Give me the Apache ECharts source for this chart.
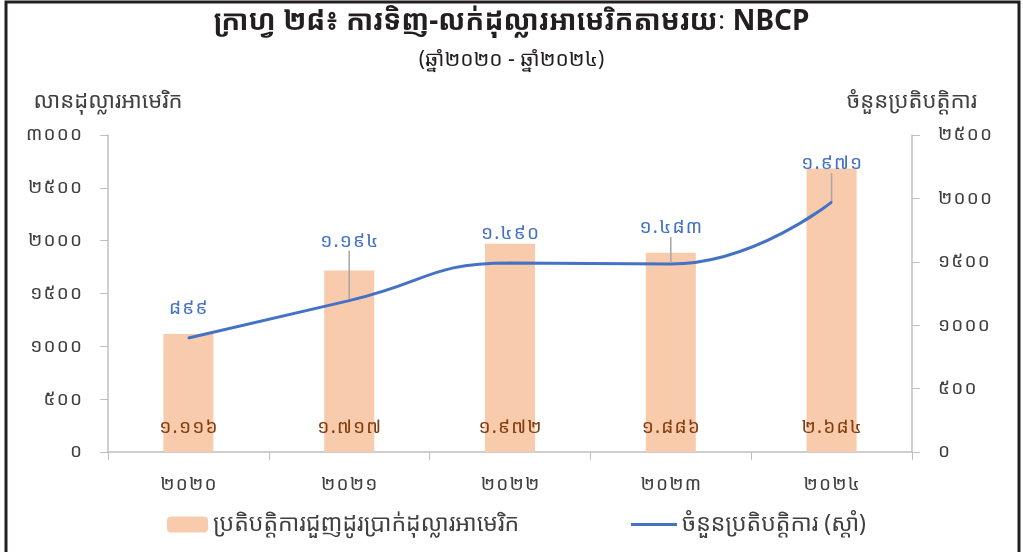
<!DOCTYPE html>
<html>
<head>
<meta charset="utf-8">
<script src="https://cdn.jsdelivr.net/npm/echarts@6/dist/echarts.min.js"></script>
<style>
  html, body { margin: 0; padding: 0; background: #fff; }
  #chart { width: 1023px; height: 552px; }
</style>
</head>
<body>
<div id="chart"></div>
<script>
// data
var years = [2020, 2021, 2022, 2023, 2024];
var tradeValues = [1116, 1717, 1972, 1886, 2684];   // million USD (bars, left axis)
var txCounts = [899, 1194, 1490, 1483, 1971];       // thousand transactions (line, right axis)
var leftTicks = [0, 500, 1000, 1500, 2000, 2500, 3000];
var rightTicks = [0, 500, 1000, 1500, 2000, 2500];

// label tweaks for the line (kept apart from the data)
var lineLabelShift = [-14, -44, -14, -21, -23];
var lineLabelLeader = [false, true, false, true, true];

var KH = ['០', '១', '២', '៣', '៤', '៥', '៦', '៧', '៨', '៩'];
function toKhmer(n, sep, spaced) {
  var s = String(n);
  if (sep) s = s.replace(/\B(?=(\d{3})+(?!\d))/g, '.');
  s = s.replace(/\d/g, function (d) { return KH[+d]; });
  if (spaced) s = s.split('').join('\u200A');
  return s;
}

var FONT = '"Noto Sans Khmer", "Noto Sans", sans-serif';
var BAR_NAME = 'ប្រតិបត្តិការជួញដូរប្រាក់ដុល្លារអាមេរិក';
var LINE_NAME = 'ចំនួនប្រតិបត្តិការ (ស្តាំ)';

var chart = echarts.init(document.getElementById('chart'));

var axisLabelStyle = {
  margin: 26,
  fontSize: 19,
  color: '#404040',
  formatter: function (v) { return toKhmer(v, false, true); }
};

var option = {
  backgroundColor: '#fff',
  textStyle: { fontFamily: FONT },
  title: [
    {
      text: 'ក្រាហ្វ ២៨៖ ការទិញ-លក់ដុល្លារអាមេរិកតាមរយៈ NBCP',
      left: 'center',
      top: 3,
      textStyle: { fontSize: 28, fontWeight: 'bold', color: '#231F20', fontFamily: FONT }
    },
    {
      text: '(ឆ្នាំ២០២០ - ឆ្នាំ២០២៤)',
      left: 'center',
      top: 45,
      textStyle: { fontSize: 21, fontWeight: 'normal', color: '#231F20', fontFamily: FONT }
    }
  ],
  graphic: [
    {
      type: 'polyline',
      shape: { points: [[6, 560], [6, 2], [1019, 2], [1019, 560]] },
      style: { stroke: '#231F20', lineWidth: 3, fill: null },
      silent: true
    }
  ],
  legend: [
    {
      left: 162,
      top: 508,
      itemWidth: 41,
      itemHeight: 16,
      textStyle: { fontSize: 23, color: '#404040', fontFamily: FONT },
      data: [{ name: BAR_NAME }]
    },
    {
      left: 626,
      top: 508,
      itemWidth: 46,
      itemHeight: 3,
      textStyle: { fontSize: 23, color: '#404040', fontFamily: FONT },
      data: [{ name: LINE_NAME, icon: 'rect' }]
    }
  ],
  grid: { left: 108, right: 111, top: 135, bottom: 100 },
  xAxis: {
    type: 'category',
    data: years,
    axisLine: { lineStyle: { color: '#BFBFBF', width: 1.5 } },
    axisTick: { show: true, length: 8, lineStyle: { color: '#BFBFBF' } },
    axisLabel: {
      margin: 23,
      fontSize: 19,
      color: '#404040',
      formatter: function (v) { return toKhmer(v, false, true); }
    }
  },
  yAxis: [
    {
      type: 'value',
      min: leftTicks[0],
      max: leftTicks[leftTicks.length - 1],
      interval: 500,
      name: 'លានដុល្លារអាមេរិក',
      nameLocation: 'end',
      nameGap: 22,
      nameTextStyle: { fontSize: 22, color: '#404040', align: 'center' },
      axisLine: { show: true, lineStyle: { color: '#BFBFBF', width: 1.5 } },
      axisTick: { show: true, length: 8, lineStyle: { color: '#BFBFBF' } },
      splitLine: { show: false },
      axisLabel: axisLabelStyle
    },
    {
      type: 'value',
      min: rightTicks[0],
      max: rightTicks[rightTicks.length - 1],
      interval: 500,
      position: 'right',
      name: 'ចំនួនប្រតិបត្តិការ',
      nameLocation: 'end',
      nameGap: 22,
      nameTextStyle: { fontSize: 22, color: '#404040', align: 'center' },
      axisLine: { show: true, lineStyle: { color: '#BFBFBF', width: 1.5 } },
      axisTick: { show: true, length: 8, lineStyle: { color: '#BFBFBF' } },
      splitLine: { show: false },
      axisLabel: axisLabelStyle
    }
  ],
  series: [
    {
      name: BAR_NAME,
      type: 'bar',
      yAxisIndex: 0,
      barWidth: 50,
      data: tradeValues,
      itemStyle: { color: '#F8CBAD' },
      label: {
        show: true,
        position: 'insideBottom',
        distance: 15,
        fontSize: 19,
        color: '#843C0C',
        formatter: function (p) { return toKhmer(p.value, true, true); }
      }
    },
    {
      name: LINE_NAME,
      type: 'line',
      yAxisIndex: 1,
      smooth: 0.5,
      symbol: 'circle',
      symbolSize: 2,
      showSymbol: true,
      lineStyle: { color: '#4472C4', width: 3 },
      itemStyle: { color: '#4472C4' },
      data: txCounts.map(function (v, i) {
        return { value: v, labelLine: { show: lineLabelLeader[i] } };
      }),
      label: {
        show: true,
        position: 'top',
        fontSize: 19,
        color: '#4472C4',
        formatter: function (p) { return toKhmer(p.value, true, true); }
      },
      labelLine: { show: true, lineStyle: { color: '#A6A6A6', width: 1.5 } },
      labelLayout: function (p) {
        return { dy: lineLabelShift[p.dataIndex] };
      },
      z: 3
    }
  ]
};

option && chart.setOption(option);
</script>
</body>
</html>
